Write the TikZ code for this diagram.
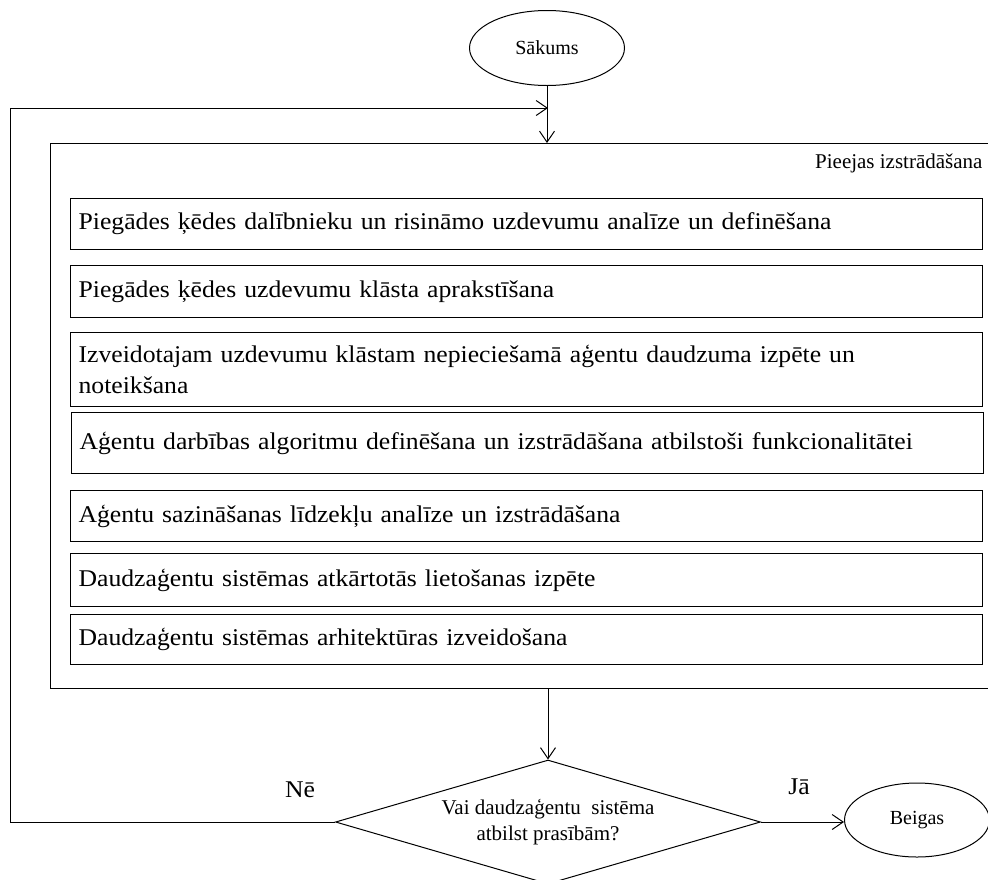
\documentclass[tikz,border=0pt]{standalone}
\usepackage{fontspec}
\setmainfont{Liberation Serif}
\newfontfamily\widefont[FakeStretch=1.07]{Liberation Serif}
\usetikzlibrary{shapes.geometric,arrows.meta}
\begin{document}
\begin{tikzpicture}[x=1pt,y=-1pt,line width=1pt,
  arr/.style={-{Straight Barb[length=11pt,width=15pt]}},
  taskbox/.style={draw,line width=1.2pt,anchor=north west,minimum width=912pt,
    text width=896pt,align=left,inner xsep=8pt,inner ysep=0pt,
    font=\widefont\fontsize{24}{31}\selectfont},
  termnode/.style={ellipse,draw,font=\fontsize{20}{22}\selectfont},
  lbl/.style={font=\widefont\fontsize{24}{30}\selectfont}]
\useasboundingbox (0,0) rectangle (988,879);
\clip (0,0) rectangle (988,879);

\node[termnode,minimum width=155pt,minimum height=75pt] (start) at (547,48) {Sākums};
\node[draw,line width=1.2pt,anchor=north west,minimum width=945pt,minimum height=545pt] (outer) at (50,143) {};
\node[anchor=east,font=\fontsize{21}{24}\selectfont,inner sep=0pt] (ptitle) at (983,163) {Pieejas izstrādāšana};

\node[taskbox,minimum height=51pt] (t1) at (70,198) {Piegādes ķēdes dalībnieku un risināmo uzdevumu analīze un definēšana};
\node[taskbox,minimum height=52pt] (t2) at (70,265) {Piegādes ķēdes uzdevumu klāsta aprakstīšana};
\node[taskbox,minimum height=74pt] (t3) at (70,332) {Izveidotajam uzdevumu klāstam nepieciešamā aģentu daudzuma izpēte un\\noteikšana};
\node[taskbox,minimum height=61pt] (t4) at (71,412) {Aģentu darbības algoritmu definēšana un izstrādāšana atbilstoši funkcionalitātei};
\node[taskbox,minimum height=51pt] (t5) at (70,490) {Aģentu sazināšanas līdzekļu analīze un izstrādāšana};
\node[taskbox,minimum height=53pt] (t6) at (70,553) {Daudzaģentu sistēmas atkārtotās lietošanas izpēte};
\node[taskbox,minimum height=50pt] (t7) at (70,614) {Daudzaģentu sistēmas arhitektūras izveidošana};

\node[diamond,draw,aspect=3.43,minimum width=425pt,minimum height=124pt,inner sep=0pt,align=center,
  font=\fontsize{21}{26}\selectfont] (dec) at (548,822) {Vai daudzaģentu~ sistēma\\atbilst prasībām?};
\node[termnode,minimum width=145pt,minimum height=74pt] (end) at (917,820) {Beigas};

\node[lbl] (ne) at (300,790) {Nē};
\node[lbl] (ja) at (799,787) {Jā};

\coordinate (lb) at (10,822);
\coordinate (lt) at (10,108);
\coordinate (merge) at (548,108);

\draw[arr] (start.south) -- (start.south |- outer.north);
\draw[arr] (dec.west) -- (lb) -- (lt) -- (merge);
\draw[arr] (outer.south -| dec.north) -- (dec.north);
\draw[arr] (dec.east) -- (dec.east -| end.west);
\end{tikzpicture}
\end{document}
